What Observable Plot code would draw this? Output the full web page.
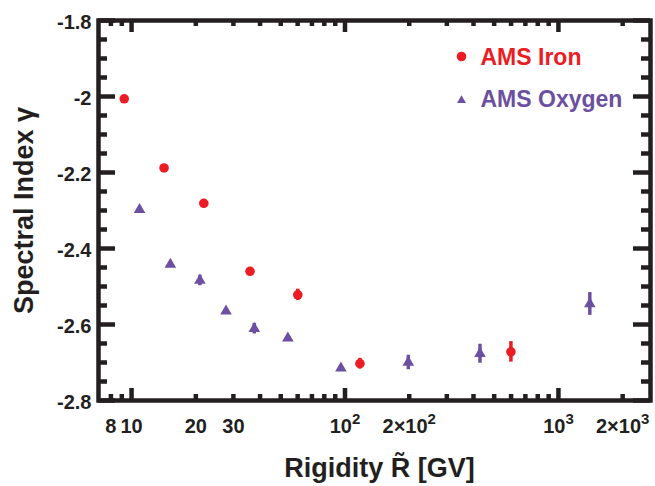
<!DOCTYPE html>
<html><head><meta charset="utf-8">
<script src="https://cdn.jsdelivr.net/npm/d3@7"></script>
<script src="https://cdn.jsdelivr.net/npm/@observablehq/plot@0.6"></script>
<style>
html,body{margin:0;padding:0;background:#fff;}
</style>
</head><body><div id="chart"></div>
<script>
// ---- data ----
const ironRigidity = [9.24, 14.2, 21.8, 35.9, 60.1, 117.5, 599];
const ironGamma    = [-2.006, -2.188, -2.281, -2.460, -2.522, -2.703, -2.672];
const ironError    = [0.006, 0.008, 0.006, 0.007, 0.015, 0.014, 0.027];

const oxygenRigidity = [10.9, 15.2, 20.9, 27.7, 37.6, 54.0, 95.7, 198, 429, 1403];
const oxygenGamma    = [-2.298, -2.442, -2.484, -2.565, -2.611, -2.636, -2.715, -2.700, -2.677, -2.546];
const oxygenError    = [0.005, 0.006, 0.014, 0.006, 0.014, 0.006, 0.005, 0.019, 0.025, 0.030];

const xTickValues = [8, 10, 20, 30, 100, 200, 1000, 2000];
const xTickLabels = ["8", "10", "20", "30", "10\u00B2", "2\u00D710\u00B2", "10\u00B3", "2\u00D710\u00B3"];
const xMajorTicks = [10, 100, 1000];
const xMinorTicks = [8, 9, 20, 30, 40, 50, 60, 70, 80, 90, 200, 300, 400, 500, 600, 700, 800, 900, 2000];

const yTickValues = [-1.8, -2, -2.2, -2.4, -2.6, -2.8];
const yTickLabels = ["-1.8", "-2", "-2.2", "-2.4", "-2.6", "-2.8"];
const yMinorTicks = [-1.85, -1.9, -1.95, -2.05, -2.1, -2.15, -2.25, -2.3, -2.35, -2.45, -2.5, -2.55, -2.65, -2.7, -2.75];

const seriesNames = ["AMS Iron", "AMS Oxygen"];
const xTitle = "Rigidity R\u0303 [GV]";
const yTitle = "Spectral Index \u03B3";

// ---- styling ----
const RED = "#ec1c24", PURPLE = "#6b4fa0", INK = "#231f20";
const W = 655, H = 486;
const M = {top: 20, right: 5, bottom: 86, left: 98};
const plotW = W - M.left - M.right, plotH = H - M.top - M.bottom;

const iron = ironRigidity.map((r, i) => ({r, g: ironGamma[i], e: ironError[i]}));
const oxygen = oxygenRigidity.map((r, i) => ({r, g: oxygenGamma[i], e: oxygenError[i]}));

const tickW = 4.5;
const chart = Plot.plot({
  width: W, height: H,
  marginTop: M.top, marginRight: M.right, marginBottom: M.bottom, marginLeft: M.left,
  style: {fontFamily: "'Liberation Sans', Arial, Helvetica, sans-serif", background: "white", overflow: "visible"},
  x: {type: "log", domain: [7, 2700], axis: null},
  y: {domain: [-2.8, -1.8], axis: null},
  marks: [
    // ticks (inward) on all four sides
    Plot.tickX(xMajorTicks, {x: d => d, insetTop: plotH - 12, stroke: INK, strokeWidth: tickW}),
    Plot.tickX(xMinorTicks, {x: d => d, insetTop: plotH - 6, stroke: INK, strokeWidth: tickW}),
    Plot.tickX(xMajorTicks, {x: d => d, insetBottom: plotH - 12, stroke: INK, strokeWidth: tickW}),
    Plot.tickX(xMinorTicks, {x: d => d, insetBottom: plotH - 6, stroke: INK, strokeWidth: tickW}),
    Plot.tickY(yTickValues, {y: d => d, insetRight: plotW - 17, stroke: INK, strokeWidth: tickW}),
    Plot.tickY(yMinorTicks, {y: d => d, insetRight: plotW - 9, stroke: INK, strokeWidth: tickW}),
    Plot.tickY(yTickValues, {y: d => d, insetLeft: plotW - 17, stroke: INK, strokeWidth: tickW}),
    Plot.tickY(yMinorTicks, {y: d => d, insetLeft: plotW - 9, stroke: INK, strokeWidth: tickW}),
    Plot.frame({stroke: INK, strokeWidth: 4.5}),
    // error bars
    Plot.ruleX(oxygen, {x: "r", y1: d => d.g - d.e, y2: d => d.g + d.e, stroke: PURPLE, strokeWidth: 3.5}),
    Plot.ruleX(iron, {x: "r", y1: d => d.g - d.e, y2: d => d.g + d.e, stroke: RED, strokeWidth: 3.5}),
    // points
    Plot.dot(oxygen, {x: "r", y: "g", symbol: "triangle", r: 4.3, fill: PURPLE, stroke: "none"}),
    Plot.dot(iron, {x: "r", y: "g", symbol: "circle", r: 4.8, fill: RED, stroke: "none"}),
    // tick labels
    Plot.text(xTickValues, {x: d => d, text: (d, i) => xTickLabels[i], frameAnchor: "bottom", lineAnchor: "middle", textAnchor: "middle", dy: 26, fontSize: 20, fontWeight: "bold", fill: INK}),
    Plot.text(yTickValues, {y: d => d, text: (d, i) => yTickLabels[i], frameAnchor: "left", lineAnchor: "middle", textAnchor: "end", dx: -7, dy: 2, fontSize: 20, fontWeight: "bold", fill: INK}),
    // axis titles
    Plot.text([xTitle], {text: d => d, frameAnchor: "bottom", lineAnchor: "middle", textAnchor: "middle", dx: 5, dy: 68, fontSize: 27, fontWeight: "bold", fill: INK}),
    Plot.text([yTitle], {text: d => d, frameAnchor: "left", lineAnchor: "middle", textAnchor: "middle", dx: -74, rotate: -90, fontSize: 27, fontWeight: "bold", fill: INK}),
    // legend
    Plot.dot([seriesNames[0]], {frameAnchor: "top-left", dx: 363, dy: 36, symbol: "circle", r: 4.8, fill: RED}),
    Plot.text([seriesNames[0]], {text: d => d, frameAnchor: "top-left", lineAnchor: "middle", dx: 382, dy: 37, textAnchor: "start", fontSize: 23, fontWeight: "bold", fill: RED}),
    Plot.dot([seriesNames[1]], {frameAnchor: "top-left", dx: 363, dy: 80, symbol: "triangle", r: 3.3, fill: PURPLE}),
    Plot.text([seriesNames[1]], {text: d => d, frameAnchor: "top-left", lineAnchor: "middle", dx: 382, dy: 79, textAnchor: "start", fontSize: 23, fontWeight: "bold", fill: PURPLE})
  ]
});

// render exponents of tick labels as raised superscripts
const SUP = {"\u00B2": "2", "\u00B3": "3"};
chart.querySelectorAll("text").forEach(t => {
  const s = t.textContent;
  const last = s.slice(-1);
  if (SUP[last] && t.children.length === 0) {
    const ns = "http://www.w3.org/2000/svg";
    t.textContent = "";
    const base = document.createElementNS(ns, "tspan");
    base.textContent = s.slice(0, -1);
    const exp = document.createElementNS(ns, "tspan");
    exp.textContent = SUP[last];
    exp.setAttribute("font-size", "15");
    exp.setAttribute("dy", "-9");
    t.appendChild(base);
    t.appendChild(exp);
  }
});
document.getElementById("chart").appendChild(chart);
</script>
</body></html>
